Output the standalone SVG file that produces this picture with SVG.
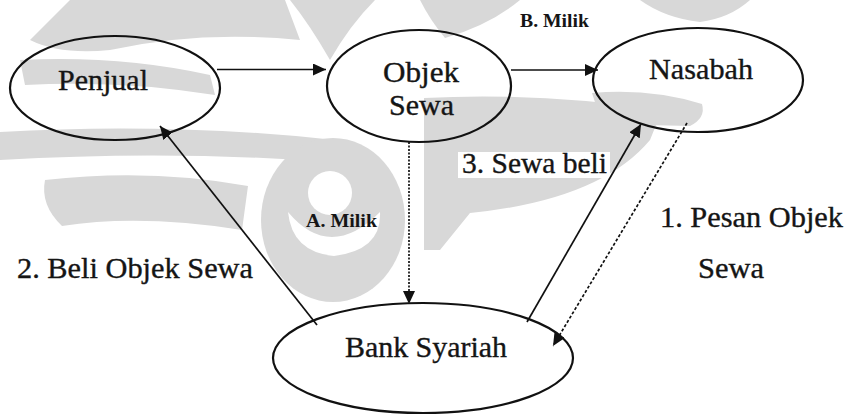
<svg xmlns="http://www.w3.org/2000/svg" width="848" height="415" viewBox="0 0 848 415">
  <style>
    .node { fill: none; stroke: #111; stroke-width: 2.2; }
    .lbl { font-family: 'Liberation Serif', 'DejaVu Serif', 'Times New Roman', Times, serif; font-size: 28.5px; fill: #151515; stroke: #151515; stroke-width: 0.35px; }
    .sm { font-family: 'Liberation Serif', 'DejaVu Serif', 'Times New Roman', Times, serif; font-size: 18px; font-weight: bold; fill: #151515; }
    .edge { fill: none; stroke: #111; stroke-width: 1.7; }
    .wm { fill: #d8d8d8; }
    .wh { fill: #ffffff; }
  </style>
  <defs>
    <marker id="arr" markerUnits="userSpaceOnUse" markerWidth="14" markerHeight="12" refX="13" refY="6" orient="auto">
      <path d="M0,0 L13,6 L0,12 Z" fill="#111"/>
    </marker>
  </defs>
  <rect width="848" height="415" fill="#ffffff"/>
  <g id="watermark">
    <path class="wm" d="M70,0 L285,0 L300,40 Q200,30 110,50 Q60,55 30,40 Z"/>
    <path class="wm" d="M290,0 L375,0 Q350,25 330,60 Q310,25 290,0 Z"/>
    <path class="wm" d="M420,0 L520,0 Q490,25 445,38 Q430,20 420,0 Z"/>
    <path class="wm" d="M640,0 L750,0 Q730,18 700,22 Q665,18 640,0 Z"/>
    <path class="wm" d="M20,60 Q120,55 210,75 L215,95 Q120,80 25,85 Z"/>
    <path class="wm" d="M0,132 Q170,122 335,140 L330,162 Q170,150 0,160 Z"/>
    <path class="wm" d="M45,180 Q150,168 248,186 L242,230 Q140,214 62,226 Q40,205 45,180 Z"/>
    <ellipse class="wm" cx="333" cy="220" rx="72" ry="82"/>
    <circle class="wh" cx="330" cy="193" r="22"/>
    <path class="wh" d="M288,212 Q330,262 380,212 Q382,250 334,256 Q292,252 288,212 Z"/>
    <path class="wm" d="M424,98 Q540,92 662,110 L650,140 Q600,200 470,213 L440,250 L424,250 Z"/>
    <rect class="wh" x="458" y="152" width="152" height="26"/>
    <path class="wm" d="M592,93 Q650,88 702,104 Q706,118 690,126 L602,124 Z"/>
  </g>
  <g id="connectors">
    <line class="edge" x1="217" y1="69.5" x2="326" y2="69.5" marker-end="url(#arr)"/>
    <line class="edge" x1="511" y1="70" x2="598" y2="70" marker-end="url(#arr)"/>
    <line class="edge" x1="409" y1="142" x2="409" y2="304" stroke-dasharray="2,1.5" marker-end="url(#arr)"/>
    <line class="edge" x1="317" y1="325" x2="160" y2="126" marker-end="url(#arr)"/>
    <line class="edge" x1="527" y1="322" x2="641" y2="124" stroke-width="2.3" marker-end="url(#arr)"/>
    <line class="edge" x1="687" y1="123" x2="553" y2="346" stroke-width="1.1" stroke-dasharray="3,2" marker-end="url(#arr)"/>
    <text class="sm" x="520" y="27" textLength="69" lengthAdjust="spacingAndGlyphs">B. Milik</text>
    <text class="sm" x="306" y="227" textLength="71" lengthAdjust="spacingAndGlyphs">A. Milik</text>
    <text class="lbl" x="17" y="278" textLength="236" lengthAdjust="spacingAndGlyphs">2. Beli Objek Sewa</text>
    <text class="lbl" x="462" y="173" textLength="145" lengthAdjust="spacingAndGlyphs">3. Sewa beli</text>
    <text class="lbl" x="660" y="227" textLength="183" lengthAdjust="spacingAndGlyphs">1. Pesan Objek</text>
    <text class="lbl" x="698" y="278" textLength="66" lengthAdjust="spacingAndGlyphs">Sewa</text>
  </g>
  <g id="penjual">
    <ellipse class="node" cx="115" cy="88" rx="105" ry="52"/>
    <text class="lbl" x="58" y="90" textLength="90" lengthAdjust="spacingAndGlyphs">Penjual</text>
  </g>
  <g id="objek-sewa">
    <ellipse class="node" cx="419" cy="86" rx="92" ry="56"/>
    <text class="lbl" x="383" y="82" textLength="76" lengthAdjust="spacingAndGlyphs">Objek</text>
    <text class="lbl" x="389" y="115" textLength="65" lengthAdjust="spacingAndGlyphs">Sewa</text>
  </g>
  <g id="nasabah">
    <ellipse class="node" cx="698" cy="80" rx="105" ry="52"/>
    <text class="lbl" x="649" y="79" textLength="104" lengthAdjust="spacingAndGlyphs">Nasabah</text>
  </g>
  <g id="bank-syariah">
    <ellipse class="node" cx="423" cy="358" rx="150" ry="55"/>
    <text class="lbl" x="345" y="357" textLength="162" lengthAdjust="spacingAndGlyphs">Bank Syariah</text>
  </g>
</svg>
